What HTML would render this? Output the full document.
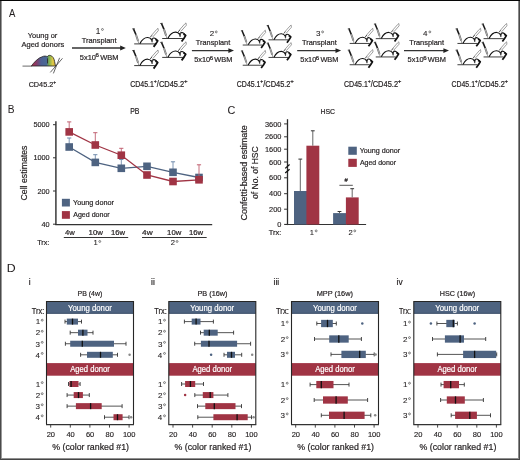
<!DOCTYPE html>
<html><head><meta charset="utf-8"><style>
html,body{margin:0;padding:0;background:#fff;}
svg{display:block;font-family:"Liberation Sans",sans-serif;will-change:transform;}
</style></head><body>
<svg width="520" height="460" viewBox="0 0 520 460">
<rect x="0" y="0" width="520" height="460" fill="#fff"/>
<rect x="1.00" y="1.00" width="1.00" height="457.00" fill="#9a9a9a" />
<rect x="518.00" y="1.00" width="1.00" height="457.00" fill="#8a8a8a" />
<rect x="1.00" y="458.00" width="518.00" height="1.00" fill="#909090" />
<rect x="519.00" y="0.00" width="1.00" height="460.00" fill="#4a4a4a" />
<rect x="0.00" y="459.00" width="520.00" height="1.00" fill="#454545" />
<rect x="0.00" y="0.00" width="1.00" height="460.00" fill="#4a4a4a" />
<rect x="0.00" y="0.00" width="520.00" height="1.00" fill="#060606" />
<text x="8.88" y="16.80" font-size="11.30" textLength="6.35" lengthAdjust="spacingAndGlyphs" fill="#231f20" stroke="#231f20" stroke-width="0.05" >A</text>
<text x="27.84" y="37.70" font-size="7.80" textLength="29.49" lengthAdjust="spacingAndGlyphs" fill="#231f20" stroke="#231f20" stroke-width="0.2" >Young or</text>
<text x="21.48" y="47.40" font-size="7.80" textLength="42.69" lengthAdjust="spacingAndGlyphs" fill="#231f20" stroke="#231f20" stroke-width="0.2" >Aged donors</text>
<text x="28.64" y="86.80" font-size="7.80" textLength="24.63" lengthAdjust="spacingAndGlyphs" fill="#231f20" stroke="#231f20" stroke-width="0.2" >CD45.2</text>
<text x="53.36" y="83.60" font-size="4.50" textLength="2.88" lengthAdjust="spacingAndGlyphs" fill="#231f20" stroke="#231f20" stroke-width="0.2" >+</text>
<defs>
<linearGradient id="dg" x1="31" y1="0" x2="56" y2="0" gradientUnits="userSpaceOnUse">
<stop offset="0" stop-color="#b0304a"/><stop offset="0.2" stop-color="#8a3a66"/>
<stop offset="0.4" stop-color="#4d5f92"/><stop offset="0.62" stop-color="#4a6a95"/>
<stop offset="0.72" stop-color="#7aae4e"/><stop offset="0.86" stop-color="#d8c848"/><stop offset="1" stop-color="#e8b030"/>
</linearGradient></defs>
<line x1="22.5" y1="66.1" x2="32" y2="66.1" stroke="#3a3a3a" stroke-width="0.75"/>
<path d="M31.4 66 C34 62.5 38 57.5 43.7 56.2 C45.5 55.9 46.5 56.2 47.3 56.8 C47.8 55.6 49 55.2 50.2 55.4 C52.6 55.9 54.2 58.5 54.6 61.5 L55.3 65.2 L56 66 Z" fill="url(#dg)" stroke="#222" stroke-width="0.8"/>
<line x1="47.5" y1="58.3" x2="47.5" y2="63.4" stroke="#333" stroke-width="1"/>
<line x1="50.3" y1="72.4" x2="62.5" y2="58.3" stroke="#333" stroke-width="0.75"/>
<line x1="53.4" y1="73.4" x2="59.6" y2="57.8" stroke="#333" stroke-width="0.75"/>
<line x1="72" y1="48" x2="121.8" y2="48" stroke="#333" stroke-width="1.3"/>
<path d="M120.2 45.6 L125.8 48 L120.2 50.4 Z" fill="#222"/>
<text x="95.78" y="33.80" font-size="8.20" fill="#231f20" stroke="#231f20" stroke-width="0.1">1</text>
<circle cx="102.44" cy="29.46" r="0.95" fill="none" stroke="#555" stroke-width="0.75"/>
<text x="81.64" y="43.10" font-size="7.80" textLength="34.92" lengthAdjust="spacingAndGlyphs" fill="#231f20" stroke="#231f20" stroke-width="0.2" >Transplant</text>
<text x="79.80" y="59.70" font-size="7.80" textLength="16.21" lengthAdjust="spacingAndGlyphs" fill="#231f20" stroke="#231f20" stroke-width="0.2" >5x10</text>
<text x="95.57" y="57.10" font-size="4.68" textLength="3.39" lengthAdjust="spacingAndGlyphs" fill="#231f20" stroke="#231f20" stroke-width="0.2" >6</text>
<text x="100.15" y="59.70" font-size="7.80" textLength="18.30" lengthAdjust="spacingAndGlyphs" fill="#231f20" stroke="#231f20" stroke-width="0.2" >WBM</text>
<line x1="191.9" y1="50.6" x2="230" y2="50.6" stroke="#333" stroke-width="1.3"/>
<path d="M228.4 48.2 L234 50.6 L228.4 53.0 Z" fill="#222"/>
<text x="209.70" y="36.10" font-size="8.00" fill="#231f20" stroke="#231f20" stroke-width="0.1">2</text>
<circle cx="216.25" cy="31.90" r="0.95" fill="none" stroke="#555" stroke-width="0.75"/>
<text x="195.84" y="45.10" font-size="7.80" textLength="34.42" lengthAdjust="spacingAndGlyphs" fill="#231f20" stroke="#231f20" stroke-width="0.2" >Transplant</text>
<text x="194.20" y="62.10" font-size="7.80" textLength="15.99" lengthAdjust="spacingAndGlyphs" fill="#231f20" stroke="#231f20" stroke-width="0.2" >5x10</text>
<text x="209.77" y="59.50" font-size="4.68" textLength="3.35" lengthAdjust="spacingAndGlyphs" fill="#231f20" stroke="#231f20" stroke-width="0.2" >6</text>
<text x="214.29" y="62.10" font-size="7.80" textLength="18.06" lengthAdjust="spacingAndGlyphs" fill="#231f20" stroke="#231f20" stroke-width="0.2" >WBM</text>
<line x1="297.2" y1="50.6" x2="337.1" y2="50.6" stroke="#333" stroke-width="1.3"/>
<path d="M335.5 48.2 L341.1 50.6 L335.5 53.0 Z" fill="#222"/>
<text x="316.00" y="36.10" font-size="8.00" fill="#231f20" stroke="#231f20" stroke-width="0.1">3</text>
<circle cx="322.59" cy="31.90" r="0.95" fill="none" stroke="#555" stroke-width="0.75"/>
<text x="301.94" y="45.40" font-size="7.80" textLength="34.82" lengthAdjust="spacingAndGlyphs" fill="#231f20" stroke="#231f20" stroke-width="0.2" >Transplant</text>
<text x="300.30" y="62.10" font-size="7.80" textLength="15.99" lengthAdjust="spacingAndGlyphs" fill="#231f20" stroke="#231f20" stroke-width="0.2" >5x10</text>
<text x="315.87" y="59.50" font-size="4.68" textLength="3.35" lengthAdjust="spacingAndGlyphs" fill="#231f20" stroke="#231f20" stroke-width="0.2" >6</text>
<text x="320.39" y="62.10" font-size="7.80" textLength="18.06" lengthAdjust="spacingAndGlyphs" fill="#231f20" stroke="#231f20" stroke-width="0.2" >WBM</text>
<line x1="404" y1="50.6" x2="445" y2="50.6" stroke="#333" stroke-width="1.3"/>
<path d="M443.4 48.2 L449 50.6 L443.4 53.0 Z" fill="#222"/>
<text x="423.12" y="36.10" font-size="8.00" fill="#231f20" stroke="#231f20" stroke-width="0.1">4</text>
<circle cx="429.83" cy="31.90" r="0.95" fill="none" stroke="#555" stroke-width="0.75"/>
<text x="409.24" y="45.40" font-size="7.80" textLength="34.82" lengthAdjust="spacingAndGlyphs" fill="#231f20" stroke="#231f20" stroke-width="0.2" >Transplant</text>
<text x="407.60" y="62.10" font-size="7.80" textLength="16.08" lengthAdjust="spacingAndGlyphs" fill="#231f20" stroke="#231f20" stroke-width="0.2" >5x10</text>
<text x="423.25" y="59.50" font-size="4.68" textLength="3.37" lengthAdjust="spacingAndGlyphs" fill="#231f20" stroke="#231f20" stroke-width="0.2" >6</text>
<text x="427.79" y="62.10" font-size="7.80" textLength="18.15" lengthAdjust="spacingAndGlyphs" fill="#231f20" stroke="#231f20" stroke-width="0.2" >WBM</text>
<text x="130.15" y="86.60" font-size="8.20" textLength="23.81" lengthAdjust="spacingAndGlyphs" fill="#231f20" stroke="#231f20" stroke-width="0.2" >CD45.1</text>
<text x="153.83" y="83.20" font-size="4.60" textLength="3.00" lengthAdjust="spacingAndGlyphs" fill="#231f20" stroke="#231f20" stroke-width="0.2" >+</text>
<text x="156.80" y="86.60" font-size="8.20" textLength="27.47" lengthAdjust="spacingAndGlyphs" fill="#231f20" stroke="#231f20" stroke-width="0.2" >/CD45.2</text>
<text x="183.99" y="83.20" font-size="4.60" textLength="3.62" lengthAdjust="spacingAndGlyphs" fill="#231f20" stroke="#231f20" stroke-width="0.2" >+</text>
<text x="236.85" y="86.60" font-size="8.20" textLength="23.60" lengthAdjust="spacingAndGlyphs" fill="#231f20" stroke="#231f20" stroke-width="0.2" >CD45.1</text>
<text x="260.32" y="83.20" font-size="4.60" textLength="2.98" lengthAdjust="spacingAndGlyphs" fill="#231f20" stroke="#231f20" stroke-width="0.2" >+</text>
<text x="263.27" y="86.60" font-size="8.20" textLength="27.23" lengthAdjust="spacingAndGlyphs" fill="#231f20" stroke="#231f20" stroke-width="0.2" >/CD45.2</text>
<text x="290.22" y="83.20" font-size="4.60" textLength="3.59" lengthAdjust="spacingAndGlyphs" fill="#231f20" stroke="#231f20" stroke-width="0.2" >+</text>
<text x="344.05" y="86.60" font-size="8.20" textLength="23.77" lengthAdjust="spacingAndGlyphs" fill="#231f20" stroke="#231f20" stroke-width="0.2" >CD45.1</text>
<text x="367.68" y="83.20" font-size="4.60" textLength="3.00" lengthAdjust="spacingAndGlyphs" fill="#231f20" stroke="#231f20" stroke-width="0.2" >+</text>
<text x="370.65" y="86.60" font-size="8.20" textLength="27.42" lengthAdjust="spacingAndGlyphs" fill="#231f20" stroke="#231f20" stroke-width="0.2" >/CD45.2</text>
<text x="397.80" y="83.20" font-size="4.60" textLength="3.61" lengthAdjust="spacingAndGlyphs" fill="#231f20" stroke="#231f20" stroke-width="0.2" >+</text>
<text x="451.55" y="86.60" font-size="8.20" textLength="23.43" lengthAdjust="spacingAndGlyphs" fill="#231f20" stroke="#231f20" stroke-width="0.2" >CD45.1</text>
<text x="474.86" y="83.20" font-size="4.60" textLength="2.96" lengthAdjust="spacingAndGlyphs" fill="#231f20" stroke="#231f20" stroke-width="0.2" >+</text>
<text x="477.78" y="86.60" font-size="8.20" textLength="27.04" lengthAdjust="spacingAndGlyphs" fill="#231f20" stroke="#231f20" stroke-width="0.2" >/CD45.2</text>
<text x="504.54" y="83.20" font-size="4.60" textLength="3.56" lengthAdjust="spacingAndGlyphs" fill="#231f20" stroke="#231f20" stroke-width="0.2" >+</text>
<defs><g id="mouse">
<line x1="1.6" y1="15.2" x2="22.3" y2="15.2" stroke="#3a3a3a" stroke-width="1"/>
<path d="M7.3 15.0 C9.4 10.8 12.5 8.7 15.2 8.8 C16.9 8.9 18.3 9.9 19.0 10.9" fill="none" stroke="#111" stroke-width="1.15"/>
<path d="M18.5 10.4 L19.5 13.6 L20.1 10.1 Z" fill="#111" stroke="#111" stroke-width="0.5"/>
<path d="M19.7 9.9 C21.2 8.5 23.4 9.6 24.7 11.8" fill="none" stroke="#111" stroke-width="1.15"/>
<path d="M22.9 10.6 L25.1 12.1 L23.4 14.9 L21.0 18.2" fill="none" stroke="#111" stroke-width="1.8" stroke-linejoin="round"/>
<path d="M-0.3 0.2 L2.0 0.0" stroke="#333" stroke-width="1"/>
<path d="M1.0 0.4 L3.4 6.1" stroke="#1a1a1a" stroke-width="1.6"/>
<path d="M3.4 6.1 L5.5 12.3" stroke="#666" stroke-width="1.9"/>
<path d="M3.4 6.1 L5.5 12.3" stroke="#ccc" stroke-width="0.7"/>
<path d="M5.5 12.3 L6.1 14.8" stroke="#555" stroke-width="0.6"/>
<path d="M17.6 8.6 L19.4 6.5" stroke="#333" stroke-width="0.9"/>
<path d="M18.6 7.0 L24.0 0.8 M20.2 8.2 L25.7 2.0 M24.0 0.8 L25.4 -0.4 L25.7 2.0" fill="none" stroke="#7a7a7a" stroke-width="0.75"/>
</g></defs>
<use href="#mouse" transform="translate(132.60,28.70) scale(1.0)"/>
<use href="#mouse" transform="translate(160.60,23.30) scale(1.0)"/>
<use href="#mouse" transform="translate(132.60,50.40) scale(1.0)"/>
<use href="#mouse" transform="translate(160.60,42.20) scale(1.0)"/>
<use href="#mouse" transform="translate(241.20,30.60) scale(0.95)"/>
<use href="#mouse" transform="translate(267.00,25.40) scale(0.95)"/>
<use href="#mouse" transform="translate(241.20,50.80) scale(0.95)"/>
<use href="#mouse" transform="translate(267.00,43.00) scale(0.95)"/>
<use href="#mouse" transform="translate(348.10,28.70) scale(0.97)"/>
<use href="#mouse" transform="translate(374.20,23.90) scale(0.97)"/>
<use href="#mouse" transform="translate(348.10,50.00) scale(0.97)"/>
<use href="#mouse" transform="translate(374.20,42.20) scale(0.97)"/>
<use href="#mouse" transform="translate(455.90,28.70) scale(0.97)"/>
<use href="#mouse" transform="translate(482.00,23.90) scale(0.97)"/>
<use href="#mouse" transform="translate(455.90,50.00) scale(0.97)"/>
<use href="#mouse" transform="translate(482.00,42.20) scale(0.97)"/>
<text x="7.87" y="113.10" font-size="10.80" textLength="6.77" lengthAdjust="spacingAndGlyphs" fill="#231f20" stroke="#231f20" stroke-width="0.05" >B</text>
<text x="130.23" y="113.80" font-size="8.20" textLength="9.23" lengthAdjust="spacingAndGlyphs" fill="#231f20" stroke="#231f20" stroke-width="0.2" >PB</text>
<line x1="55.9" y1="121.3" x2="55.9" y2="225.1" stroke="#3a3a3a" stroke-width="1.5" />
<line x1="55.2" y1="224.6" x2="212.2" y2="224.6" stroke="#333" stroke-width="1.3" />
<line x1="53" y1="124.7" x2="55.9" y2="124.7" stroke="#333" stroke-width="1" />
<text x="33.44" y="127.30" font-size="7.30" fill="#231f20" stroke="#231f20" stroke-width="0.15">5000</text>
<line x1="53" y1="157.8" x2="55.9" y2="157.8" stroke="#333" stroke-width="1" />
<text x="33.44" y="160.40" font-size="7.30" fill="#231f20" stroke="#231f20" stroke-width="0.15">1000</text>
<line x1="53" y1="191.0" x2="55.9" y2="191.0" stroke="#333" stroke-width="1" />
<text x="37.50" y="193.60" font-size="7.30" fill="#231f20" stroke="#231f20" stroke-width="0.15">200</text>
<line x1="53" y1="224.2" x2="55.9" y2="224.2" stroke="#333" stroke-width="1" />
<text x="41.56" y="226.80" font-size="7.30" fill="#231f20" stroke="#231f20" stroke-width="0.15">40</text>
<text transform="translate(27.10,200.54) rotate(-90)" x="0" y="0" font-size="9.00" textLength="55.05" lengthAdjust="spacingAndGlyphs" fill="#231f20" stroke="#231f20" stroke-width="0.2">Cell estimates</text>
<polyline points="69.2,147.0 95.3,162.4 121.3,168.3 147.0,166.3 173.0,172.3 199.0,177.5" fill="none" stroke="#4e6381" stroke-width="1.3"/>
<line x1="69.2" y1="147.0" x2="69.2" y2="138.0" stroke="#6f8aab" stroke-width="0.9"/>
<line x1="67.10000000000001" y1="138.0" x2="71.3" y2="138.0" stroke="#6f8aab" stroke-width="1"/>
<line x1="95.3" y1="162.4" x2="95.3" y2="154.7" stroke="#6f8aab" stroke-width="0.9"/>
<line x1="93.2" y1="154.7" x2="97.39999999999999" y2="154.7" stroke="#6f8aab" stroke-width="1"/>
<line x1="121.3" y1="168.3" x2="121.3" y2="159.5" stroke="#6f8aab" stroke-width="0.9"/>
<line x1="119.2" y1="159.5" x2="123.39999999999999" y2="159.5" stroke="#6f8aab" stroke-width="1"/>
<line x1="173.0" y1="172.3" x2="173.0" y2="161.8" stroke="#6f8aab" stroke-width="0.9"/>
<line x1="170.9" y1="161.8" x2="175.1" y2="161.8" stroke="#6f8aab" stroke-width="1"/>
<rect x="65.40" y="143.20" width="7.60" height="7.60" fill="#4e6381" />
<rect x="91.50" y="158.60" width="7.60" height="7.60" fill="#4e6381" />
<rect x="117.50" y="164.50" width="7.60" height="7.60" fill="#4e6381" />
<rect x="143.20" y="162.50" width="7.60" height="7.60" fill="#4e6381" />
<rect x="169.20" y="168.50" width="7.60" height="7.60" fill="#4e6381" />
<rect x="195.20" y="173.70" width="7.60" height="7.60" fill="#4e6381" />
<polyline points="69.2,131.9 95.3,145.0 121.3,155.2 147.0,175.0 173.0,181.5 199.0,179.8" fill="none" stroke="#a03444" stroke-width="1.3"/>
<line x1="69.2" y1="131.9" x2="69.2" y2="121.9" stroke="#c06070" stroke-width="0.9"/>
<line x1="67.10000000000001" y1="121.9" x2="71.3" y2="121.9" stroke="#c06070" stroke-width="1"/>
<line x1="95.3" y1="145.0" x2="95.3" y2="132.7" stroke="#c06070" stroke-width="0.9"/>
<line x1="93.2" y1="132.7" x2="97.39999999999999" y2="132.7" stroke="#c06070" stroke-width="1"/>
<line x1="121.3" y1="155.2" x2="121.3" y2="148.3" stroke="#c06070" stroke-width="0.9"/>
<line x1="119.2" y1="148.3" x2="123.39999999999999" y2="148.3" stroke="#c06070" stroke-width="1"/>
<line x1="199.0" y1="179.8" x2="199.0" y2="164.8" stroke="#c06070" stroke-width="0.9"/>
<line x1="196.9" y1="164.8" x2="201.1" y2="164.8" stroke="#c06070" stroke-width="1"/>
<rect x="65.40" y="128.10" width="7.60" height="7.60" fill="#a03444" />
<rect x="91.50" y="141.20" width="7.60" height="7.60" fill="#a03444" />
<rect x="117.50" y="151.40" width="7.60" height="7.60" fill="#a03444" />
<rect x="143.20" y="171.20" width="7.60" height="7.60" fill="#a03444" />
<rect x="169.20" y="177.70" width="7.60" height="7.60" fill="#a03444" />
<rect x="195.20" y="176.00" width="7.60" height="7.60" fill="#a03444" />
<rect x="61.90" y="198.80" width="8.00" height="7.70" fill="#4e6381" />
<rect x="61.90" y="211.10" width="8.00" height="7.70" fill="#a03444" />
<text x="73.04" y="204.90" font-size="7.60" textLength="40.89" lengthAdjust="spacingAndGlyphs" fill="#231f20" stroke="#231f20" stroke-width="0.2" >Young donor</text>
<text x="73.19" y="216.90" font-size="7.60" textLength="36.53" lengthAdjust="spacingAndGlyphs" fill="#231f20" stroke="#231f20" stroke-width="0.2" >Aged donor</text>
<text x="65.03" y="235.00" font-size="7.20" textLength="9.76" lengthAdjust="spacingAndGlyphs" fill="#231f20" stroke="#231f20" stroke-width="0.2" >4w</text>
<text x="88.60" y="235.00" font-size="7.20" textLength="14.38" lengthAdjust="spacingAndGlyphs" fill="#231f20" stroke="#231f20" stroke-width="0.2" >10w</text>
<text x="110.92" y="235.00" font-size="7.20" textLength="14.07" lengthAdjust="spacingAndGlyphs" fill="#231f20" stroke="#231f20" stroke-width="0.2" >16w</text>
<text x="142.12" y="235.00" font-size="7.20" textLength="10.57" lengthAdjust="spacingAndGlyphs" fill="#231f20" stroke="#231f20" stroke-width="0.2" >4w</text>
<text x="167.11" y="235.00" font-size="7.20" textLength="14.18" lengthAdjust="spacingAndGlyphs" fill="#231f20" stroke="#231f20" stroke-width="0.2" >10w</text>
<text x="189.01" y="235.00" font-size="7.20" textLength="14.18" lengthAdjust="spacingAndGlyphs" fill="#231f20" stroke="#231f20" stroke-width="0.2" >16w</text>
<line x1="63.8" y1="237.5" x2="128.2" y2="237.5" stroke="#333" stroke-width="1" />
<line x1="142" y1="237.5" x2="206.7" y2="237.5" stroke="#333" stroke-width="1" />
<text x="37.14" y="245.00" font-size="7.80" textLength="12.34" lengthAdjust="spacingAndGlyphs" fill="#231f20" stroke="#231f20" stroke-width="0.2" >Trx:</text>
<text x="93.42" y="245.40" font-size="7.60" fill="#231f20" stroke="#231f20" stroke-width="0.1">1</text>
<circle cx="99.78" cy="241.47" r="0.95" fill="none" stroke="#555" stroke-width="0.75"/>
<text x="170.72" y="245.40" font-size="7.60" fill="#231f20" stroke="#231f20" stroke-width="0.1">2</text>
<circle cx="177.07" cy="241.47" r="0.95" fill="none" stroke="#555" stroke-width="0.75"/>
<text x="227.46" y="113.50" font-size="10.80" textLength="7.86" lengthAdjust="spacingAndGlyphs" fill="#231f20" stroke="#231f20" stroke-width="0.05" >C</text>
<text x="320.43" y="113.90" font-size="8.00" textLength="14.63" lengthAdjust="spacingAndGlyphs" fill="#231f20" stroke="#231f20" stroke-width="0.2" >HSC</text>
<line x1="287.5" y1="119.2" x2="287.5" y2="225.1" stroke="#2a2a2a" stroke-width="1.3" />
<line x1="285.2" y1="168.4" x2="289.6" y2="164.5" stroke="#111" stroke-width="1.25"/>
<line x1="285.2" y1="173.0" x2="289.6" y2="169.3" stroke="#111" stroke-width="1.25"/>
<line x1="285" y1="224.5" x2="366.1" y2="224.5" stroke="#333" stroke-width="1.2" />
<line x1="284.1" y1="123.9" x2="287.5" y2="123.9" stroke="#333" stroke-width="1" />
<text x="264.92" y="126.50" font-size="7.40" fill="#231f20" stroke="#231f20" stroke-width="0.15">3600</text>
<line x1="284.1" y1="136.8" x2="287.5" y2="136.8" stroke="#333" stroke-width="1" />
<text x="264.92" y="139.40" font-size="7.40" fill="#231f20" stroke="#231f20" stroke-width="0.15">2600</text>
<line x1="284.1" y1="149.2" x2="287.5" y2="149.2" stroke="#333" stroke-width="1" />
<text x="264.92" y="151.80" font-size="7.40" fill="#231f20" stroke="#231f20" stroke-width="0.15">1600</text>
<line x1="284.1" y1="162.0" x2="287.5" y2="162.0" stroke="#333" stroke-width="1" />
<text x="269.04" y="164.60" font-size="7.40" fill="#231f20" stroke="#231f20" stroke-width="0.15">600</text>
<line x1="284.1" y1="177.8" x2="287.5" y2="177.8" stroke="#333" stroke-width="1" />
<text x="269.04" y="180.40" font-size="7.40" fill="#231f20" stroke="#231f20" stroke-width="0.15">600</text>
<line x1="284.1" y1="193.7" x2="287.5" y2="193.7" stroke="#333" stroke-width="1" />
<text x="269.04" y="196.30" font-size="7.40" fill="#231f20" stroke="#231f20" stroke-width="0.15">400</text>
<line x1="284.1" y1="209.2" x2="287.5" y2="209.2" stroke="#333" stroke-width="1" />
<text x="269.04" y="211.80" font-size="7.40" fill="#231f20" stroke="#231f20" stroke-width="0.15">200</text>
<line x1="284.1" y1="224.4" x2="287.5" y2="224.4" stroke="#333" stroke-width="1" />
<text x="277.27" y="227.00" font-size="7.40" fill="#231f20" stroke="#231f20" stroke-width="0.15">0</text>
<text transform="translate(247.20,220.45) rotate(-90)" x="0" y="0" font-size="9.20" textLength="95.26" lengthAdjust="spacingAndGlyphs" fill="#231f20" stroke="#231f20" stroke-width="0.2">Confetti-based estimate</text>
<text transform="translate(257.60,199.06) rotate(-90)" x="0" y="0" font-size="8.30" textLength="52.79" lengthAdjust="spacingAndGlyphs" fill="#231f20" stroke="#231f20" stroke-width="0.2">of No. of HSC</text>
<rect x="294.00" y="191.00" width="13.40" height="33.50" fill="#4e6381" />
<rect x="306.40" y="145.70" width="12.90" height="78.80" fill="#a03444" />
<rect x="333.10" y="213.10" width="13.80" height="11.40" fill="#4e6381" />
<rect x="345.90" y="197.40" width="12.80" height="27.10" fill="#a03444" />
<line x1="300.3" y1="191" x2="300.3" y2="159.1" stroke="#555" stroke-width="0.9"/>
<line x1="298.40000000000003" y1="159.1" x2="302.2" y2="159.1" stroke="#333" stroke-width="1"/>
<line x1="312.8" y1="145.7" x2="312.8" y2="130.8" stroke="#555" stroke-width="0.9"/>
<line x1="310.90000000000003" y1="130.8" x2="314.7" y2="130.8" stroke="#333" stroke-width="1"/>
<line x1="339.5" y1="213.1" x2="339.5" y2="211.5" stroke="#555" stroke-width="0.9"/>
<line x1="337.6" y1="211.5" x2="341.4" y2="211.5" stroke="#333" stroke-width="1"/>
<line x1="352.2" y1="197.4" x2="352.2" y2="188.7" stroke="#555" stroke-width="0.9"/>
<line x1="350.3" y1="188.7" x2="354.09999999999997" y2="188.7" stroke="#333" stroke-width="1"/>
<text x="344.58" y="181.70" font-size="5.50" textLength="3.25" lengthAdjust="spacingAndGlyphs" fill="#231f20" stroke="#231f20" stroke-width="0.2" >#</text>
<line x1="339.4" y1="185.3" x2="352.8" y2="185.3" stroke="#444" stroke-width="0.9" />
<rect x="348.30" y="146.70" width="8.50" height="8.10" fill="#4e6381" />
<rect x="348.30" y="158.80" width="8.50" height="8.10" fill="#a03444" />
<text x="359.74" y="152.80" font-size="7.60" textLength="40.28" lengthAdjust="spacingAndGlyphs" fill="#231f20" stroke="#231f20" stroke-width="0.2" >Young donor</text>
<text x="359.89" y="164.90" font-size="7.60" textLength="36.13" lengthAdjust="spacingAndGlyphs" fill="#231f20" stroke="#231f20" stroke-width="0.2" >Aged donor</text>
<text x="268.73" y="234.80" font-size="7.80" textLength="12.66" lengthAdjust="spacingAndGlyphs" fill="#231f20" stroke="#231f20" stroke-width="0.2" >Trx:</text>
<text x="309.82" y="234.80" font-size="7.60" fill="#231f20" stroke="#231f20" stroke-width="0.1">1</text>
<circle cx="316.18" cy="230.87" r="0.95" fill="none" stroke="#555" stroke-width="0.75"/>
<text x="348.42" y="234.80" font-size="7.60" fill="#231f20" stroke="#231f20" stroke-width="0.1">2</text>
<circle cx="354.77" cy="230.87" r="0.95" fill="none" stroke="#555" stroke-width="0.75"/>
<text x="6.89" y="272.00" font-size="11.00" textLength="8.90" lengthAdjust="spacingAndGlyphs" fill="#231f20" stroke="#231f20" stroke-width="0.05" >D</text>
<text x="28.65" y="285.00" font-size="8.40" fill="#231f20" stroke="#231f20" stroke-width="0.2">i</text>
<text x="151.05" y="285.00" font-size="8.40" fill="#231f20" stroke="#231f20" stroke-width="0.2">ii</text>
<text x="273.55" y="285.00" font-size="8.40" fill="#231f20" stroke="#231f20" stroke-width="0.2">iii</text>
<text x="396.55" y="285.00" font-size="8.40" fill="#231f20" stroke="#231f20" stroke-width="0.2">iv</text>
<text x="77.53" y="296.20" font-size="7.80" textLength="24.81" lengthAdjust="spacingAndGlyphs" fill="#231f20" stroke="#231f20" stroke-width="0.2" >PB (4w)</text>
<text x="31.74" y="313.70" font-size="8.20" textLength="12.45" lengthAdjust="spacingAndGlyphs" fill="#231f20" stroke="#231f20" stroke-width="0.2" >Trx:</text>
<rect x="46.50" y="301.50" width="87.00" height="12.20" fill="#4e6380" />
<rect x="46.50" y="312.80" width="87.00" height="0.90" fill="#3d4f68" />
<rect x="46.50" y="363.10" width="87.00" height="12.60" fill="#a03444" />
<path d="M46.5 424.6 V301.5 H133.5 V424.6" fill="none" stroke="#262626" stroke-width="1.1"/>
<line x1="46.0" y1="424.6" x2="134.0" y2="424.6" stroke="#333" stroke-width="1.2"/>
<text x="68.03" y="310.50" font-size="8.60" textLength="43.81" lengthAdjust="spacingAndGlyphs" fill="#ffffff" stroke="#ffffff" stroke-width="0.2" >Young donor</text>
<text x="70.18" y="371.80" font-size="8.60" textLength="39.65" lengthAdjust="spacingAndGlyphs" fill="#ffffff" stroke="#ffffff" stroke-width="0.2" >Aged donor</text>
<line x1="50.7" y1="424.5" x2="50.7" y2="427.6" stroke="#333" stroke-width="0.9" />
<text x="46.69" y="437.40" font-size="7.50" fill="#231f20" stroke="#231f20" stroke-width="0.15">20</text>
<line x1="70.30000000000001" y1="424.5" x2="70.30000000000001" y2="427.6" stroke="#333" stroke-width="0.9" />
<text x="66.39" y="437.40" font-size="7.50" fill="#231f20" stroke="#231f20" stroke-width="0.15">40</text>
<line x1="89.9" y1="424.5" x2="89.9" y2="427.6" stroke="#333" stroke-width="0.9" />
<text x="85.89" y="437.40" font-size="7.50" fill="#231f20" stroke="#231f20" stroke-width="0.15">60</text>
<line x1="109.5" y1="424.5" x2="109.5" y2="427.6" stroke="#333" stroke-width="0.9" />
<text x="105.51" y="437.40" font-size="7.50" fill="#231f20" stroke="#231f20" stroke-width="0.15">80</text>
<line x1="129.10000000000002" y1="424.5" x2="129.10000000000002" y2="427.6" stroke="#333" stroke-width="0.9" />
<text x="122.90" y="437.40" font-size="7.50" fill="#231f20" stroke="#231f20" stroke-width="0.15">100</text>
<text x="52.18" y="450.40" font-size="8.70" textLength="76.86" lengthAdjust="spacingAndGlyphs" fill="#231f20" stroke="#231f20" stroke-width="0.2" >% (color ranked #1)</text>
<text x="35.64" y="324.40" font-size="8.00" fill="#231f20" stroke="#231f20" stroke-width="0.1">1</text>
<circle cx="42.20" cy="320.20" r="0.95" fill="none" stroke="#555" stroke-width="0.75"/>
<text x="35.64" y="386.80" font-size="8.00" fill="#231f20" stroke="#231f20" stroke-width="0.1">1</text>
<circle cx="42.20" cy="382.60" r="0.95" fill="none" stroke="#555" stroke-width="0.75"/>
<line x1="65.00" y1="321.60" x2="81.50" y2="321.60" stroke="#555" stroke-width="1"/>
<line x1="65.00" y1="319.60" x2="65.00" y2="323.60" stroke="#333" stroke-width="0.9"/>
<line x1="81.50" y1="319.60" x2="81.50" y2="323.60" stroke="#333" stroke-width="0.9"/>
<rect x="66.80" y="318.60" width="11.20" height="6.00" fill="#4e6381" />
<line x1="72.50" y1="318.60" x2="72.50" y2="324.60" stroke="#111" stroke-width="1.3"/>
<line x1="68.50" y1="384.00" x2="80.10" y2="384.00" stroke="#555" stroke-width="1"/>
<line x1="68.50" y1="382.00" x2="68.50" y2="386.00" stroke="#333" stroke-width="0.9"/>
<line x1="80.10" y1="382.00" x2="80.10" y2="386.00" stroke="#333" stroke-width="0.9"/>
<rect x="69.40" y="381.00" width="9.10" height="6.00" fill="#a03444" />
<line x1="71.10" y1="381.00" x2="71.10" y2="387.00" stroke="#111" stroke-width="1.3"/>
<text x="35.65" y="335.47" font-size="8.00" fill="#231f20" stroke="#231f20" stroke-width="0.1">2</text>
<circle cx="42.20" cy="331.27" r="0.95" fill="none" stroke="#555" stroke-width="0.75"/>
<text x="35.65" y="397.87" font-size="8.00" fill="#231f20" stroke="#231f20" stroke-width="0.1">2</text>
<circle cx="42.20" cy="393.67" r="0.95" fill="none" stroke="#555" stroke-width="0.75"/>
<line x1="70.20" y1="332.67" x2="93.00" y2="332.67" stroke="#555" stroke-width="1"/>
<line x1="70.20" y1="330.67" x2="70.20" y2="334.67" stroke="#333" stroke-width="0.9"/>
<line x1="93.00" y1="330.67" x2="93.00" y2="334.67" stroke="#333" stroke-width="0.9"/>
<rect x="78.00" y="329.67" width="9.50" height="6.00" fill="#4e6381" />
<line x1="82.90" y1="329.67" x2="82.90" y2="335.67" stroke="#111" stroke-width="1.3"/>
<line x1="67.10" y1="395.07" x2="89.30" y2="395.07" stroke="#555" stroke-width="1"/>
<line x1="67.10" y1="393.07" x2="67.10" y2="397.07" stroke="#333" stroke-width="0.9"/>
<line x1="89.30" y1="393.07" x2="89.30" y2="397.07" stroke="#333" stroke-width="0.9"/>
<rect x="73.70" y="392.07" width="9.20" height="6.00" fill="#a03444" />
<line x1="78.50" y1="392.07" x2="78.50" y2="398.07" stroke="#111" stroke-width="1.3"/>
<text x="35.60" y="346.54" font-size="8.00" fill="#231f20" stroke="#231f20" stroke-width="0.1">3</text>
<circle cx="42.20" cy="342.34" r="0.95" fill="none" stroke="#555" stroke-width="0.75"/>
<text x="35.60" y="408.94" font-size="8.00" fill="#231f20" stroke="#231f20" stroke-width="0.1">3</text>
<circle cx="42.20" cy="404.74" r="0.95" fill="none" stroke="#555" stroke-width="0.75"/>
<line x1="65.40" y1="343.74" x2="126.00" y2="343.74" stroke="#555" stroke-width="1"/>
<line x1="65.40" y1="341.74" x2="65.40" y2="345.74" stroke="#333" stroke-width="0.9"/>
<line x1="126.00" y1="341.74" x2="126.00" y2="345.74" stroke="#333" stroke-width="0.9"/>
<rect x="70.20" y="340.74" width="43.80" height="6.00" fill="#4e6381" />
<line x1="82.30" y1="340.74" x2="82.30" y2="346.74" stroke="#111" stroke-width="1.3"/>
<line x1="67.10" y1="406.14" x2="122.10" y2="406.14" stroke="#555" stroke-width="1"/>
<line x1="67.10" y1="404.14" x2="67.10" y2="408.14" stroke="#333" stroke-width="0.9"/>
<line x1="122.10" y1="404.14" x2="122.10" y2="408.14" stroke="#333" stroke-width="0.9"/>
<rect x="75.90" y="403.14" width="25.80" height="6.00" fill="#a03444" />
<line x1="90.60" y1="403.14" x2="90.60" y2="409.14" stroke="#111" stroke-width="1.3"/>
<text x="35.49" y="357.61" font-size="8.00" fill="#231f20" stroke="#231f20" stroke-width="0.1">4</text>
<circle cx="42.20" cy="353.41" r="0.95" fill="none" stroke="#555" stroke-width="0.75"/>
<text x="35.49" y="420.01" font-size="8.00" fill="#231f20" stroke="#231f20" stroke-width="0.1">4</text>
<circle cx="42.20" cy="415.81" r="0.95" fill="none" stroke="#555" stroke-width="0.75"/>
<line x1="80.60" y1="354.81" x2="117.50" y2="354.81" stroke="#555" stroke-width="1"/>
<line x1="80.60" y1="352.81" x2="80.60" y2="356.81" stroke="#333" stroke-width="0.9"/>
<line x1="117.50" y1="352.81" x2="117.50" y2="356.81" stroke="#333" stroke-width="0.9"/>
<rect x="87.00" y="351.81" width="25.80" height="6.00" fill="#4e6381" />
<line x1="100.50" y1="351.81" x2="100.50" y2="357.81" stroke="#111" stroke-width="1.3"/>
<circle cx="129.60" cy="354.81" r="1.25" fill="#888"/>
<line x1="104.50" y1="417.21" x2="129.00" y2="417.21" stroke="#555" stroke-width="1"/>
<line x1="104.50" y1="415.21" x2="104.50" y2="419.21" stroke="#333" stroke-width="0.9"/>
<line x1="129.00" y1="415.21" x2="129.00" y2="419.21" stroke="#333" stroke-width="0.9"/>
<rect x="113.50" y="414.21" width="9.10" height="6.00" fill="#a03444" />
<line x1="117.50" y1="414.21" x2="117.50" y2="420.21" stroke="#111" stroke-width="1.3"/>
<circle cx="131.10" cy="417.21" r="1.25" fill="#888"/>
<text x="197.50" y="296.20" font-size="7.80" textLength="30.05" lengthAdjust="spacingAndGlyphs" fill="#231f20" stroke="#231f20" stroke-width="0.2" >PB (16w)</text>
<text x="154.24" y="313.70" font-size="8.20" textLength="12.45" lengthAdjust="spacingAndGlyphs" fill="#231f20" stroke="#231f20" stroke-width="0.2" >Trx:</text>
<rect x="168.80" y="301.50" width="87.00" height="12.20" fill="#4e6380" />
<rect x="168.80" y="312.80" width="87.00" height="0.90" fill="#3d4f68" />
<rect x="168.80" y="363.10" width="87.00" height="12.60" fill="#a03444" />
<path d="M168.8 424.6 V301.5 H255.8 V424.6" fill="none" stroke="#262626" stroke-width="1.1"/>
<line x1="168.3" y1="424.6" x2="256.3" y2="424.6" stroke="#333" stroke-width="1.2"/>
<text x="190.33" y="310.50" font-size="8.60" textLength="43.81" lengthAdjust="spacingAndGlyphs" fill="#ffffff" stroke="#ffffff" stroke-width="0.2" >Young donor</text>
<text x="192.48" y="371.80" font-size="8.60" textLength="39.65" lengthAdjust="spacingAndGlyphs" fill="#ffffff" stroke="#ffffff" stroke-width="0.2" >Aged donor</text>
<line x1="173.0" y1="424.5" x2="173.0" y2="427.6" stroke="#333" stroke-width="0.9" />
<text x="168.98" y="437.40" font-size="7.50" fill="#231f20" stroke="#231f20" stroke-width="0.15">20</text>
<line x1="192.6" y1="424.5" x2="192.6" y2="427.6" stroke="#333" stroke-width="0.9" />
<text x="188.69" y="437.40" font-size="7.50" fill="#231f20" stroke="#231f20" stroke-width="0.15">40</text>
<line x1="212.2" y1="424.5" x2="212.2" y2="427.6" stroke="#333" stroke-width="0.9" />
<text x="208.18" y="437.40" font-size="7.50" fill="#231f20" stroke="#231f20" stroke-width="0.15">60</text>
<line x1="231.8" y1="424.5" x2="231.8" y2="427.6" stroke="#333" stroke-width="0.9" />
<text x="227.81" y="437.40" font-size="7.50" fill="#231f20" stroke="#231f20" stroke-width="0.15">80</text>
<line x1="251.4" y1="424.5" x2="251.4" y2="427.6" stroke="#333" stroke-width="0.9" />
<text x="245.20" y="437.40" font-size="7.50" fill="#231f20" stroke="#231f20" stroke-width="0.15">100</text>
<text x="174.48" y="450.40" font-size="8.70" textLength="76.86" lengthAdjust="spacingAndGlyphs" fill="#231f20" stroke="#231f20" stroke-width="0.2" >% (color ranked #1)</text>
<text x="157.94" y="324.40" font-size="8.00" fill="#231f20" stroke="#231f20" stroke-width="0.1">1</text>
<circle cx="164.50" cy="320.20" r="0.95" fill="none" stroke="#555" stroke-width="0.75"/>
<text x="157.94" y="386.80" font-size="8.00" fill="#231f20" stroke="#231f20" stroke-width="0.1">1</text>
<circle cx="164.50" cy="382.60" r="0.95" fill="none" stroke="#555" stroke-width="0.75"/>
<line x1="184.40" y1="321.60" x2="213.40" y2="321.60" stroke="#555" stroke-width="1"/>
<line x1="184.40" y1="319.60" x2="184.40" y2="323.60" stroke="#333" stroke-width="0.9"/>
<line x1="213.40" y1="319.60" x2="213.40" y2="323.60" stroke="#333" stroke-width="0.9"/>
<rect x="191.70" y="318.60" width="8.80" height="6.00" fill="#4e6381" />
<line x1="196.10" y1="318.60" x2="196.10" y2="324.60" stroke="#111" stroke-width="1.3"/>
<line x1="181.60" y1="384.00" x2="203.50" y2="384.00" stroke="#555" stroke-width="1"/>
<line x1="181.60" y1="382.00" x2="181.60" y2="386.00" stroke="#333" stroke-width="0.9"/>
<line x1="203.50" y1="382.00" x2="203.50" y2="386.00" stroke="#333" stroke-width="0.9"/>
<rect x="185.10" y="381.00" width="10.10" height="6.00" fill="#a03444" />
<line x1="190.40" y1="381.00" x2="190.40" y2="387.00" stroke="#111" stroke-width="1.3"/>
<text x="157.95" y="335.47" font-size="8.00" fill="#231f20" stroke="#231f20" stroke-width="0.1">2</text>
<circle cx="164.50" cy="331.27" r="0.95" fill="none" stroke="#555" stroke-width="0.75"/>
<text x="157.95" y="397.87" font-size="8.00" fill="#231f20" stroke="#231f20" stroke-width="0.1">2</text>
<circle cx="164.50" cy="393.67" r="0.95" fill="none" stroke="#555" stroke-width="0.75"/>
<line x1="200.50" y1="332.67" x2="233.60" y2="332.67" stroke="#555" stroke-width="1"/>
<line x1="200.50" y1="330.67" x2="200.50" y2="334.67" stroke="#333" stroke-width="0.9"/>
<line x1="233.60" y1="330.67" x2="233.60" y2="334.67" stroke="#333" stroke-width="0.9"/>
<rect x="203.70" y="329.67" width="14.00" height="6.00" fill="#4e6381" />
<line x1="209.30" y1="329.67" x2="209.30" y2="335.67" stroke="#111" stroke-width="1.3"/>
<line x1="194.80" y1="395.07" x2="227.90" y2="395.07" stroke="#555" stroke-width="1"/>
<line x1="194.80" y1="393.07" x2="194.80" y2="397.07" stroke="#333" stroke-width="0.9"/>
<line x1="227.90" y1="393.07" x2="227.90" y2="397.07" stroke="#333" stroke-width="0.9"/>
<rect x="202.80" y="392.07" width="10.60" height="6.00" fill="#a03444" />
<line x1="210.20" y1="392.07" x2="210.20" y2="398.07" stroke="#111" stroke-width="1.3"/>
<circle cx="185.10" cy="395.07" r="1.25" fill="#a03444"/>
<text x="157.90" y="346.54" font-size="8.00" fill="#231f20" stroke="#231f20" stroke-width="0.1">3</text>
<circle cx="164.50" cy="342.34" r="0.95" fill="none" stroke="#555" stroke-width="0.75"/>
<text x="157.90" y="408.94" font-size="8.00" fill="#231f20" stroke="#231f20" stroke-width="0.1">3</text>
<circle cx="164.50" cy="404.74" r="0.95" fill="none" stroke="#555" stroke-width="0.75"/>
<line x1="194.70" y1="343.74" x2="250.60" y2="343.74" stroke="#555" stroke-width="1"/>
<line x1="194.70" y1="341.74" x2="194.70" y2="345.74" stroke="#333" stroke-width="0.9"/>
<line x1="250.60" y1="341.74" x2="250.60" y2="345.74" stroke="#333" stroke-width="0.9"/>
<rect x="200.90" y="340.74" width="36.20" height="6.00" fill="#4e6381" />
<line x1="209.00" y1="340.74" x2="209.00" y2="346.74" stroke="#111" stroke-width="1.3"/>
<line x1="197.50" y1="406.14" x2="241.50" y2="406.14" stroke="#555" stroke-width="1"/>
<line x1="197.50" y1="404.14" x2="197.50" y2="408.14" stroke="#333" stroke-width="0.9"/>
<line x1="241.50" y1="404.14" x2="241.50" y2="408.14" stroke="#333" stroke-width="0.9"/>
<rect x="205.30" y="403.14" width="30.20" height="6.00" fill="#a03444" />
<line x1="214.30" y1="403.14" x2="214.30" y2="409.14" stroke="#111" stroke-width="1.3"/>
<text x="157.79" y="357.61" font-size="8.00" fill="#231f20" stroke="#231f20" stroke-width="0.1">4</text>
<circle cx="164.50" cy="353.41" r="0.95" fill="none" stroke="#555" stroke-width="0.75"/>
<text x="157.79" y="420.01" font-size="8.00" fill="#231f20" stroke="#231f20" stroke-width="0.1">4</text>
<circle cx="164.50" cy="415.81" r="0.95" fill="none" stroke="#555" stroke-width="0.75"/>
<line x1="224.00" y1="354.81" x2="241.70" y2="354.81" stroke="#555" stroke-width="1"/>
<line x1="224.00" y1="352.81" x2="224.00" y2="356.81" stroke="#333" stroke-width="0.9"/>
<line x1="241.70" y1="352.81" x2="241.70" y2="356.81" stroke="#333" stroke-width="0.9"/>
<rect x="227.00" y="351.81" width="8.00" height="6.00" fill="#4e6381" />
<line x1="231.50" y1="351.81" x2="231.50" y2="357.81" stroke="#111" stroke-width="1.3"/>
<circle cx="211.10" cy="354.81" r="1.25" fill="#4e6381"/>
<circle cx="252.20" cy="354.81" r="1.25" fill="#888"/>
<line x1="197.80" y1="417.21" x2="251.50" y2="417.21" stroke="#555" stroke-width="1"/>
<line x1="197.80" y1="415.21" x2="197.80" y2="419.21" stroke="#333" stroke-width="0.9"/>
<line x1="251.50" y1="415.21" x2="251.50" y2="419.21" stroke="#333" stroke-width="0.9"/>
<rect x="213.40" y="414.21" width="34.30" height="6.00" fill="#a03444" />
<line x1="237.10" y1="414.21" x2="237.10" y2="420.21" stroke="#111" stroke-width="1.3"/>
<circle cx="253.60" cy="417.21" r="1.25" fill="#888"/>
<text x="316.70" y="296.20" font-size="7.80" textLength="36.27" lengthAdjust="spacingAndGlyphs" fill="#231f20" stroke="#231f20" stroke-width="0.2" >MPP (16w)</text>
<text x="276.03" y="313.70" font-size="8.20" textLength="12.77" lengthAdjust="spacingAndGlyphs" fill="#231f20" stroke="#231f20" stroke-width="0.2" >Trx:</text>
<rect x="291.50" y="301.50" width="87.00" height="12.20" fill="#4e6380" />
<rect x="291.50" y="312.80" width="87.00" height="0.90" fill="#3d4f68" />
<rect x="291.50" y="363.10" width="87.00" height="12.60" fill="#a03444" />
<path d="M291.5 424.6 V301.5 H378.5 V424.6" fill="none" stroke="#262626" stroke-width="1.1"/>
<line x1="291.0" y1="424.6" x2="379.0" y2="424.6" stroke="#333" stroke-width="1.2"/>
<text x="313.03" y="310.50" font-size="8.60" textLength="43.81" lengthAdjust="spacingAndGlyphs" fill="#ffffff" stroke="#ffffff" stroke-width="0.2" >Young donor</text>
<text x="315.18" y="371.80" font-size="8.60" textLength="39.65" lengthAdjust="spacingAndGlyphs" fill="#ffffff" stroke="#ffffff" stroke-width="0.2" >Aged donor</text>
<line x1="295.7" y1="424.5" x2="295.7" y2="427.6" stroke="#333" stroke-width="0.9" />
<text x="291.69" y="437.40" font-size="7.50" fill="#231f20" stroke="#231f20" stroke-width="0.15">20</text>
<line x1="315.3" y1="424.5" x2="315.3" y2="427.6" stroke="#333" stroke-width="0.9" />
<text x="311.39" y="437.40" font-size="7.50" fill="#231f20" stroke="#231f20" stroke-width="0.15">40</text>
<line x1="334.9" y1="424.5" x2="334.9" y2="427.6" stroke="#333" stroke-width="0.9" />
<text x="330.88" y="437.40" font-size="7.50" fill="#231f20" stroke="#231f20" stroke-width="0.15">60</text>
<line x1="354.5" y1="424.5" x2="354.5" y2="427.6" stroke="#333" stroke-width="0.9" />
<text x="350.51" y="437.40" font-size="7.50" fill="#231f20" stroke="#231f20" stroke-width="0.15">80</text>
<line x1="374.1" y1="424.5" x2="374.1" y2="427.6" stroke="#333" stroke-width="0.9" />
<text x="367.90" y="437.40" font-size="7.50" fill="#231f20" stroke="#231f20" stroke-width="0.15">100</text>
<text x="297.18" y="450.40" font-size="8.70" textLength="76.86" lengthAdjust="spacingAndGlyphs" fill="#231f20" stroke="#231f20" stroke-width="0.2" >% (color ranked #1)</text>
<text x="280.64" y="326.30" font-size="8.00" fill="#231f20" stroke="#231f20" stroke-width="0.1">1</text>
<circle cx="287.20" cy="322.10" r="0.95" fill="none" stroke="#555" stroke-width="0.75"/>
<text x="280.64" y="387.40" font-size="8.00" fill="#231f20" stroke="#231f20" stroke-width="0.1">1</text>
<circle cx="287.20" cy="383.20" r="0.95" fill="none" stroke="#555" stroke-width="0.75"/>
<line x1="316.80" y1="323.50" x2="336.30" y2="323.50" stroke="#555" stroke-width="1"/>
<line x1="316.80" y1="321.50" x2="316.80" y2="325.50" stroke="#333" stroke-width="0.9"/>
<line x1="336.30" y1="321.50" x2="336.30" y2="325.50" stroke="#333" stroke-width="0.9"/>
<rect x="321.10" y="319.85" width="11.70" height="7.30" fill="#4e6381" />
<line x1="327.50" y1="319.85" x2="327.50" y2="327.15" stroke="#111" stroke-width="1.3"/>
<circle cx="362.30" cy="323.50" r="1.25" fill="#4e6381"/>
<line x1="310.10" y1="384.60" x2="349.00" y2="384.60" stroke="#555" stroke-width="1"/>
<line x1="310.10" y1="382.60" x2="310.10" y2="386.60" stroke="#333" stroke-width="0.9"/>
<line x1="349.00" y1="382.60" x2="349.00" y2="386.60" stroke="#333" stroke-width="0.9"/>
<rect x="316.30" y="380.95" width="17.20" height="7.30" fill="#a03444" />
<line x1="321.30" y1="380.95" x2="321.30" y2="388.25" stroke="#111" stroke-width="1.3"/>
<text x="280.65" y="341.80" font-size="8.00" fill="#231f20" stroke="#231f20" stroke-width="0.1">2</text>
<circle cx="287.20" cy="337.60" r="0.95" fill="none" stroke="#555" stroke-width="0.75"/>
<text x="280.65" y="402.80" font-size="8.00" fill="#231f20" stroke="#231f20" stroke-width="0.1">2</text>
<circle cx="287.20" cy="398.60" r="0.95" fill="none" stroke="#555" stroke-width="0.75"/>
<line x1="314.50" y1="339.00" x2="361.40" y2="339.00" stroke="#555" stroke-width="1"/>
<line x1="314.50" y1="337.00" x2="314.50" y2="341.00" stroke="#333" stroke-width="0.9"/>
<line x1="361.40" y1="337.00" x2="361.40" y2="341.00" stroke="#333" stroke-width="0.9"/>
<rect x="329.20" y="335.35" width="19.50" height="7.30" fill="#4e6381" />
<line x1="338.80" y1="335.35" x2="338.80" y2="342.65" stroke="#111" stroke-width="1.3"/>
<line x1="314.20" y1="400.00" x2="367.60" y2="400.00" stroke="#555" stroke-width="1"/>
<line x1="314.20" y1="398.00" x2="314.20" y2="402.00" stroke="#333" stroke-width="0.9"/>
<line x1="367.60" y1="398.00" x2="367.60" y2="402.00" stroke="#333" stroke-width="0.9"/>
<rect x="323.00" y="396.35" width="24.80" height="7.30" fill="#a03444" />
<line x1="336.10" y1="396.35" x2="336.10" y2="403.65" stroke="#111" stroke-width="1.3"/>
<text x="280.60" y="357.20" font-size="8.00" fill="#231f20" stroke="#231f20" stroke-width="0.1">3</text>
<circle cx="287.20" cy="353.00" r="0.95" fill="none" stroke="#555" stroke-width="0.75"/>
<text x="280.60" y="418.10" font-size="8.00" fill="#231f20" stroke="#231f20" stroke-width="0.1">3</text>
<circle cx="287.20" cy="413.90" r="0.95" fill="none" stroke="#555" stroke-width="0.75"/>
<line x1="331.00" y1="354.40" x2="374.20" y2="354.40" stroke="#555" stroke-width="1"/>
<line x1="331.00" y1="352.40" x2="331.00" y2="356.40" stroke="#333" stroke-width="0.9"/>
<line x1="374.20" y1="352.40" x2="374.20" y2="356.40" stroke="#333" stroke-width="0.9"/>
<rect x="341.40" y="350.75" width="24.40" height="7.30" fill="#4e6381" />
<line x1="359.70" y1="350.75" x2="359.70" y2="358.05" stroke="#111" stroke-width="1.3"/>
<circle cx="375.60" cy="354.40" r="1.25" fill="#888"/>
<line x1="321.30" y1="415.30" x2="370.80" y2="415.30" stroke="#555" stroke-width="1"/>
<line x1="321.30" y1="413.30" x2="321.30" y2="417.30" stroke="#333" stroke-width="0.9"/>
<line x1="370.80" y1="413.30" x2="370.80" y2="417.30" stroke="#333" stroke-width="0.9"/>
<rect x="329.00" y="411.65" width="35.60" height="7.30" fill="#a03444" />
<line x1="344.10" y1="411.65" x2="344.10" y2="418.95" stroke="#111" stroke-width="1.3"/>
<circle cx="375.20" cy="415.30" r="1.25" fill="#888"/>
<text x="439.81" y="296.20" font-size="7.80" textLength="35.25" lengthAdjust="spacingAndGlyphs" fill="#231f20" stroke="#231f20" stroke-width="0.2" >HSC (16w)</text>
<text x="399.05" y="313.70" font-size="8.20" textLength="11.80" lengthAdjust="spacingAndGlyphs" fill="#231f20" stroke="#231f20" stroke-width="0.2" >Trx:</text>
<rect x="413.80" y="301.50" width="87.00" height="12.20" fill="#4e6380" />
<rect x="413.80" y="312.80" width="87.00" height="0.90" fill="#3d4f68" />
<rect x="413.80" y="363.10" width="87.00" height="12.60" fill="#a03444" />
<path d="M413.8 424.6 V301.5 H500.8 V424.6" fill="none" stroke="#262626" stroke-width="1.1"/>
<line x1="413.3" y1="424.6" x2="501.3" y2="424.6" stroke="#333" stroke-width="1.2"/>
<text x="435.33" y="310.50" font-size="8.60" textLength="43.81" lengthAdjust="spacingAndGlyphs" fill="#ffffff" stroke="#ffffff" stroke-width="0.2" >Young donor</text>
<text x="437.48" y="371.80" font-size="8.60" textLength="39.65" lengthAdjust="spacingAndGlyphs" fill="#ffffff" stroke="#ffffff" stroke-width="0.2" >Aged donor</text>
<line x1="418.0" y1="424.5" x2="418.0" y2="427.6" stroke="#333" stroke-width="0.9" />
<text x="413.99" y="437.40" font-size="7.50" fill="#231f20" stroke="#231f20" stroke-width="0.15">20</text>
<line x1="437.6" y1="424.5" x2="437.6" y2="427.6" stroke="#333" stroke-width="0.9" />
<text x="433.69" y="437.40" font-size="7.50" fill="#231f20" stroke="#231f20" stroke-width="0.15">40</text>
<line x1="457.2" y1="424.5" x2="457.2" y2="427.6" stroke="#333" stroke-width="0.9" />
<text x="453.19" y="437.40" font-size="7.50" fill="#231f20" stroke="#231f20" stroke-width="0.15">60</text>
<line x1="476.8" y1="424.5" x2="476.8" y2="427.6" stroke="#333" stroke-width="0.9" />
<text x="472.81" y="437.40" font-size="7.50" fill="#231f20" stroke="#231f20" stroke-width="0.15">80</text>
<line x1="496.4" y1="424.5" x2="496.4" y2="427.6" stroke="#333" stroke-width="0.9" />
<text x="490.20" y="437.40" font-size="7.50" fill="#231f20" stroke="#231f20" stroke-width="0.15">100</text>
<text x="419.48" y="450.40" font-size="8.70" textLength="76.86" lengthAdjust="spacingAndGlyphs" fill="#231f20" stroke="#231f20" stroke-width="0.2" >% (color ranked #1)</text>
<text x="402.94" y="326.30" font-size="8.00" fill="#231f20" stroke="#231f20" stroke-width="0.1">1</text>
<circle cx="409.50" cy="322.10" r="0.95" fill="none" stroke="#555" stroke-width="0.75"/>
<text x="402.94" y="387.40" font-size="8.00" fill="#231f20" stroke="#231f20" stroke-width="0.1">1</text>
<circle cx="409.50" cy="383.20" r="0.95" fill="none" stroke="#555" stroke-width="0.75"/>
<line x1="436.90" y1="323.50" x2="457.40" y2="323.50" stroke="#555" stroke-width="1"/>
<line x1="436.90" y1="321.50" x2="436.90" y2="325.50" stroke="#333" stroke-width="0.9"/>
<line x1="457.40" y1="321.50" x2="457.40" y2="325.50" stroke="#333" stroke-width="0.9"/>
<rect x="446.30" y="319.85" width="8.50" height="7.30" fill="#4e6381" />
<line x1="453.30" y1="319.85" x2="453.30" y2="327.15" stroke="#111" stroke-width="1.3"/>
<circle cx="430.90" cy="323.50" r="1.25" fill="#4e6381"/>
<circle cx="474.60" cy="323.50" r="1.25" fill="#4e6381"/>
<line x1="441.00" y1="384.60" x2="464.30" y2="384.60" stroke="#555" stroke-width="1"/>
<line x1="441.00" y1="382.60" x2="441.00" y2="386.60" stroke="#333" stroke-width="0.9"/>
<line x1="464.30" y1="382.60" x2="464.30" y2="386.60" stroke="#333" stroke-width="0.9"/>
<rect x="443.60" y="380.95" width="15.40" height="7.30" fill="#a03444" />
<line x1="450.70" y1="380.95" x2="450.70" y2="388.25" stroke="#111" stroke-width="1.3"/>
<text x="402.95" y="341.80" font-size="8.00" fill="#231f20" stroke="#231f20" stroke-width="0.1">2</text>
<circle cx="409.50" cy="337.60" r="0.95" fill="none" stroke="#555" stroke-width="0.75"/>
<text x="402.95" y="402.80" font-size="8.00" fill="#231f20" stroke="#231f20" stroke-width="0.1">2</text>
<circle cx="409.50" cy="398.60" r="0.95" fill="none" stroke="#555" stroke-width="0.75"/>
<line x1="432.50" y1="339.00" x2="485.70" y2="339.00" stroke="#555" stroke-width="1"/>
<line x1="432.50" y1="337.00" x2="432.50" y2="341.00" stroke="#333" stroke-width="0.9"/>
<line x1="485.70" y1="337.00" x2="485.70" y2="341.00" stroke="#333" stroke-width="0.9"/>
<rect x="444.90" y="335.35" width="19.10" height="7.30" fill="#4e6381" />
<line x1="460.10" y1="335.35" x2="460.10" y2="342.65" stroke="#111" stroke-width="1.3"/>
<line x1="440.60" y1="400.00" x2="483.40" y2="400.00" stroke="#555" stroke-width="1"/>
<line x1="440.60" y1="398.00" x2="440.60" y2="402.00" stroke="#333" stroke-width="0.9"/>
<line x1="483.40" y1="398.00" x2="483.40" y2="402.00" stroke="#333" stroke-width="0.9"/>
<rect x="446.80" y="396.35" width="18.00" height="7.30" fill="#a03444" />
<line x1="455.50" y1="396.35" x2="455.50" y2="403.65" stroke="#111" stroke-width="1.3"/>
<text x="402.90" y="357.20" font-size="8.00" fill="#231f20" stroke="#231f20" stroke-width="0.1">3</text>
<circle cx="409.50" cy="353.00" r="0.95" fill="none" stroke="#555" stroke-width="0.75"/>
<text x="402.90" y="418.10" font-size="8.00" fill="#231f20" stroke="#231f20" stroke-width="0.1">3</text>
<circle cx="409.50" cy="413.90" r="0.95" fill="none" stroke="#555" stroke-width="0.75"/>
<line x1="437.40" y1="354.40" x2="496.70" y2="354.40" stroke="#555" stroke-width="1"/>
<line x1="437.40" y1="352.40" x2="437.40" y2="356.40" stroke="#333" stroke-width="0.9"/>
<line x1="496.70" y1="352.40" x2="496.70" y2="356.40" stroke="#333" stroke-width="0.9"/>
<rect x="463.10" y="350.75" width="33.10" height="7.30" fill="#4e6381" />
<line x1="474.60" y1="350.75" x2="474.60" y2="358.05" stroke="#111" stroke-width="1.3"/>
<line x1="451.20" y1="415.30" x2="490.50" y2="415.30" stroke="#555" stroke-width="1"/>
<line x1="451.20" y1="413.30" x2="451.20" y2="417.30" stroke="#333" stroke-width="0.9"/>
<line x1="490.50" y1="413.30" x2="490.50" y2="417.30" stroke="#333" stroke-width="0.9"/>
<rect x="455.10" y="411.65" width="21.80" height="7.30" fill="#a03444" />
<line x1="469.80" y1="411.65" x2="469.80" y2="418.95" stroke="#111" stroke-width="1.3"/>
</svg></body></html>
